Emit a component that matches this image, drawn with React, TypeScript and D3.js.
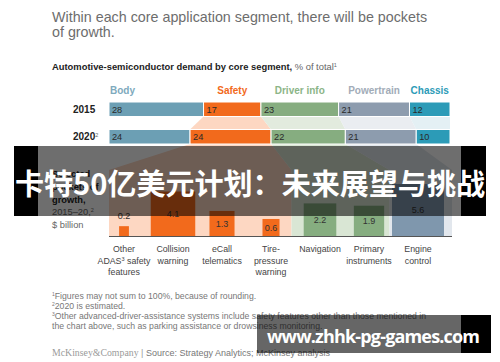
import React from 'react'
import * as d3 from 'd3'

// segment share of total, %
const segments = ['Body', 'Safety', 'Driver info', 'Powertrain', 'Chassis']
const years = ['2015', '2020']
const share2015 = [28, 17, 23, 21, 12]
const share2020 = [24, 24, 22, 21, 10]

// selected pockets of growth, 2015-20, $ billion
const pockets = [
  'Other ADAS safety features',
  'Collision warning',
  'eCall telematics',
  'Tire-pressure warning',
  'Navigation',
  'Primary instruments',
  'Engine control'
]
const pocketSegment = ['Safety', 'Safety', 'Safety', 'Safety', 'Driver info', 'Driver info', 'Powertrain']
const pocketGrowth = [0.2, 4.1, 1.3, 0.6, 2.2, 1.9, 5.6]
const pocketLines = [
  ['Other', 'ADAS|3| safety', 'features'],
  ['Collision', 'warning'],
  ['eCall', 'telematics'],
  ['Tire-', 'pressure', 'warning'],
  ['Navigation'],
  ['Primary', 'instruments'],
  ['Engine', 'control']
]

const footnotes = [
  ['1', 'Figures may not sum to 100%, because of rounding.'],
  ['2', '2020 is estimated.'],
  ['3', 'Other advanced-driver-assistance systems include safety features other than those mentioned in'],
  ['', ' the chart above, such as parking assistance or drowsiness monitoring.']
]

const barColor: Record<string, string> = {
  Body: '#6c9fb4',
  Safety: '#f26a1c',
  'Driver info': '#86ad80',
  Powertrain: '#8d9cae',
  Chassis: '#2c9bb7'
}
const headColor: Record<string, string> = {
  Body: '#7eaabd',
  Safety: '#f26a1c',
  'Driver info': '#8cb587',
  Powertrain: '#a2acb8',
  Chassis: '#2c9bb7'
}
const tintColor: Record<string, string> = {
  Body: 'none',
  Safety: '#fdd7c2',
  'Driver info': '#e2ebde',
  Powertrain: '#eaedf1',
  Chassis: '#e4f0f4'
}
const panelColor: Record<string, string> = {
  Safety: '#fdd7c2',
  'Driver info': '#d9e6d4',
  Powertrain: '#e2e7ed'
}
const pocketColor: Record<string, string> = {
  Safety: '#f26a1c',
  'Driver info': '#86ad80',
  Powertrain: '#7f97ad'
}

const FONT = '"Liberation Sans", Arial, sans-serif'

export default function App() {
  const width = 500
  const height = 362

  // stacked share bars
  const x = d3.scaleLinear().domain([0, d3.sum(share2015)]).range([109, 450])
  const y = d3.scaleBand().domain(years).range([102, 144]).paddingInner(0.473)
  const rows = [share2015, share2020].map((vals, i) => {
    const ends = Array.from(d3.cumsum(vals))
    return vals.map((v, j) => ({
      seg: segments[j],
      value: v,
      x0: x(ends[j] - v),
      x1: x(ends[j]),
      year: years[i]
    }))
  })
  const bw = y.bandwidth()
  const y15 = y('2015')!
  const y20 = y('2020')!

  // pockets
  const base = 236
  const xp = d3.scaleBand().domain(pockets).range([99.5, 442.5])
  const side = d3.scaleSqrt().domain([0, 5.6]).range([0, 52])
  const panelTop = 170
  const center = (p: string) => xp(p)! + xp.bandwidth() / 2

  const panelSegs = ['Safety', 'Driver info', 'Powertrain']
  const panels = panelSegs.map((seg, k) => {
    const idx = pockets.filter((_, i) => pocketSegment[i] === seg)
    const first = pockets.indexOf(idx[0])
    const last = pockets.indexOf(idx[idx.length - 1])
    const left = k === 0 ? x(0) : (center(pockets[first - 1]) + center(pockets[first])) / 2 - 4
    const right = k === panelSegs.length - 1 ? 452 : (center(pockets[last]) + center(pockets[last + 1])) / 2 - 4
    const s20 = rows[1].find(r => r.seg === seg)!
    return {seg, left, right, s20}
  })

  return (
    <svg width={width} height={height} style={{position: 'absolute', left: 0, top: 0, background: '#fff'}} fontFamily={FONT}>
      <rect width={width} height={height} fill="#fff" />
      <text x={52} y={22} fontSize={14.3} fill="#6d6d6d">
        Within each core application segment, there will be pockets
      </text>
      <text x={52} y={37} fontSize={14.3} fill="#6d6d6d">
        of growth.
      </text>
      <text x={52} y={70} fontSize={9.4} fill="#222">
        <tspan fontWeight="bold">Automotive-semiconductor demand by core segment,</tspan>
        <tspan fill="#666"> % of total</tspan>
        <tspan fill="#666" fontSize={5.5} dy={-3}>1</tspan>
      </text>

      {/* funnels between 2015 and 2020 */}
      {rows[0].map((r, j) => {
        const b = rows[1][j]
        if (tintColor[r.seg] === 'none') return null
        return (
          <path
            key={'f' + r.seg}
            d={`M${r.x0},${y15 + bw}L${r.x1},${y15 + bw}L${b.x1},${y20}L${b.x0},${y20}Z`}
            fill={tintColor[r.seg]}
          />
        )
      })}

      {/* funnels and panels below 2020 */}
      {panels.map(p => (
        <path
          key={'p' + p.seg}
          d={`M${p.s20.x0},${y20 + bw}L${p.s20.x1},${y20 + bw}L${p.right},${panelTop}L${p.right},${base}L${p.left},${base}L${p.left},${panelTop}Z`}
          fill={panelColor[p.seg]}
        />
      ))}

      {/* segment headers: Body flush left, others centred on the 2015 segment */}
      {rows[0].map((r, j) => (
        <text
          key={'h' + r.seg}
          x={j === 0 ? r.x0 + 1 : (r.x0 + r.x1) / 2}
          y={94}
          textAnchor={j === 0 ? 'start' : 'middle'}
          fontSize={10}
          fontWeight="bold"
          fill={headColor[r.seg]}
        >
          {r.seg}
        </text>
      ))}

      {rows.map((row, i) => (
        <g key={years[i]}>
          <text x={73} y={y(years[i])! + bw / 2 + 3.5} fontSize={10} fontWeight="bold" fill="#222">
            {years[i]}
            {i === 1 && <tspan fontSize={5.5} fontWeight="normal" fill="#666" dy={-3.5}>2</tspan>}
          </text>
          {row.map(r => (
            <g key={r.seg}>
              <rect x={r.x0} y={y(r.year)} width={r.x1 - r.x0} height={bw} fill={barColor[r.seg]} stroke="#fff" strokeWidth={1} />
              <text x={r.x0 + 3} y={y(r.year)! + bw / 2 + 3.3} fontSize={9.2} fill="#2a2a2a">
                {r.value}
              </text>
            </g>
          ))}
        </g>
      ))}

      {/* pocket squares, area proportional to growth */}
      {pockets.map((p, i) => {
        const s = side(pocketGrowth[i])
        const cx = center(p)
        const small = s < 14
        return (
          <g key={p}>
            <rect x={cx - s / 2} y={base - s} width={s} height={s} fill={pocketColor[pocketSegment[i]]} />
            <text
              x={cx}
              y={small ? base - s - 7 : base - s / 2 + 3.3}
              textAnchor="middle"
              fontSize={9}
              fill="#333"
            >
              {pocketGrowth[i]}
            </text>
            {pocketLines[i].map((ln, k) => {
              const parts = ln.split('|')
              return (
                <text key={k} x={cx} y={252 + k * 11.5} textAnchor="middle" fontSize={8.8} fill="#444">
                  {parts[0]}
                  {parts.length > 1 && <tspan fontSize={5.5} dy={-3}>{parts[1]}</tspan>}
                  {parts.length > 1 && <tspan dy={3}>{parts[2]}</tspan>}
                </text>
              )
            })}
          </g>
        )
      })}
      <line x1={x(0)} x2={452} y1={base + 0.5} y2={base + 0.5} stroke="#555" strokeWidth={1} />

      {/* y annotation */}
      <text x={52} fontSize={9.3} fill="#222">
        <tspan x={52} y={177} fontWeight="bold">Selected</tspan>
        <tspan x={52} y={190} fontWeight="bold">pockets of</tspan>
        <tspan x={52} y={203} fontWeight="bold">growth,</tspan>
        <tspan x={52} y={215} fill="#666">2015–20,</tspan>
        <tspan fill="#666" fontSize={5.5} dy={-3}>2</tspan>
        <tspan x={52} y={228} fill="#666">$ billion</tspan>
      </text>

      {/* footnotes */}
      {footnotes.map((f, i) => (
        <text key={i} x={52} y={299 + i * 10} fontSize={8.7} fill="#777">
          {f[0] && <tspan fontSize={5} dy={-3}>{f[0]}</tspan>}
          <tspan dy={f[0] ? 3 : 0}>{f[1]}</tspan>
        </text>
      ))}
      <text x={52} y={356} fontSize={9} fill="#9a9a9a">
        <tspan fontFamily='"Liberation Serif", serif' fontSize={9.8}>McKinsey&amp;Company</tspan>
        <tspan>  |  </tspan>
        <tspan fill="#777">Source: Strategy Analytics; McKinsey analysis</tspan>
      </text>

      {/* overlay banner */}
      <rect x={14} y={146} width={24} height={70} fill="#000" />
      <rect x={461} y={146} width={25} height={70} fill="#000" />
      <rect x={38} y={146} width={423} height={70} fill="rgba(0,0,0,0.57)" />
      <text
        x={15}
        y={182}
        dominantBaseline="central"
        fontSize={29}
        fontWeight="bold"
        fill="#fff"
        textLength={470}
        lengthAdjust="spacingAndGlyphs"
        fontFamily='"Noto Sans CJK SC", sans-serif'
      >
        卡特50亿美元计划：未来展望与挑战
      </text>

      {/* watermark */}
      <rect x={257} y={315} width={204} height={38} fill="rgba(0,0,0,0.6)" />
      <rect x={461} y={315} width={30} height={38} fill="#000" />
      <text x={267} y={343} fontSize={18} fontWeight="bold" fill="#fff" fontFamily='"Open Sans", sans-serif' textLength={213}>
        www.zhhk-pg-games.com
      </text>
    </svg>
  )
}
